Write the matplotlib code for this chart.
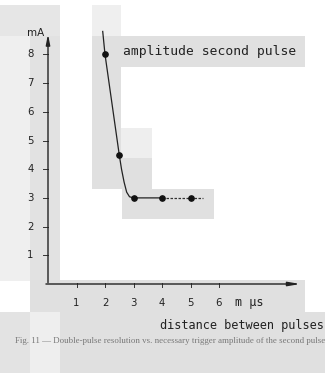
import matplotlib
matplotlib.use("Agg")
import matplotlib.pyplot as plt
from matplotlib.patches import Rectangle

# measured points (distance in m-mu-s, amplitude in mA)
dist = [2, 2.5, 3, 4, 5]
amp = [8, 4.5, 3, 3, 3]
# hand drawn curve through the points
curve_x = [1.92, 2.0, 2.25, 2.5, 2.58, 2.67, 2.76, 2.86, 3.0, 4.0]
curve_y = [8.8, 8.0, 6.25, 4.5, 4.0, 3.55, 3.2, 3.04, 3.0, 3.0]
tail_x = [4.0, 5.0, 5.45]
tail_y = [3.0, 3.0, 3.0]
xticks = [1, 2, 3, 4, 5, 6]
yticks = [1, 2, 3, 4, 5, 6, 7, 8]

W, H = 325, 380
fig = plt.figure(figsize=(W / 100, H / 100), dpi=100)
ax = fig.add_axes([0, 0, 1, 1])
ax.patch.set_alpha(0)

# pixel scale of the scan: origin at (48, 284), ~28.5 px per unit
x0, y0, sx, sy = 48, 284, 28.5, 28.7
ax.set_xlim(-x0 / sx, (W - x0) / sx)
ax.set_ylim((y0 - H) / sy, y0 / sy)
ax.axis("off")

def grey(px0, py0, px1, py1, c):
    fig.add_artist(Rectangle((px0 / W, 1 - py1 / H), (px1 - px0) / W, (py1 - py0) / H,
                             transform=fig.transFigure, color=c, lw=0, zorder=-1))

# scan background blocks
grey(0, 5, 60, 36, '#e6e6e6')
grey(0, 36, 30, 281, '#efefef')
grey(30, 36, 60, 280, '#e2e2e2')
grey(30, 280, 305, 312, '#e0e0e0')
grey(0, 312, 30, 373, '#e3e3e3')
grey(30, 312, 60, 373, '#eeeeee')
grey(60, 312, 325, 373, '#e0e0e0')
grey(92, 5, 121, 36, '#efefef')
grey(92, 36, 305, 67, '#e0e0e0')
grey(92, 67, 121, 189, '#e0e0e0')
grey(121, 128, 152, 158, '#eeeeee')
grey(121, 158, 152, 189, '#e0e0e0')
grey(122, 189, 214, 219, '#e0e0e0')

# axes with arrows
ax.annotate("", xy=(0, 8.8), xytext=(0, -0.05),
            arrowprops=dict(arrowstyle="-|>,head_length=0.6,head_width=0.12", color="#222", lw=1.0))
ax.annotate("", xy=(8.95, 0), xytext=(-0.17, 0),
            arrowprops=dict(arrowstyle="-|>,head_length=0.7,head_width=0.12", color="#222", lw=1.0))

# ticks
for t in yticks:
    ax.plot([-0.16, 0], [t, t], color="#333", lw=0.7)
    ax.text(-0.5, t, str(t), ha="right", va="center", fontsize=7.3, color="#222")
for t in xticks:
    ax.plot([t, t], [-0.1, 0.03], color="#333", lw=0.7)
    ax.text(t, -0.66, str(t), ha="center", va="center", fontsize=7.3, color="#222")

ax.text(-0.45, 8.75, "mA", ha="center", va="center", fontsize=7.5, color="#222")
ax.text(7.05, -0.66, "m µs", ha="center", va="center", fontsize=8.5,
        family="DejaVu Sans Mono", color="#222")

# curve and points
ax.plot(curve_x, curve_y, color="#222", lw=0.9)
ax.plot(tail_x, tail_y, color="#333", lw=0.9, ls=(0, (2, 1.2)))
ax.plot(dist, amp, "o", color="#111", ms=3.8)

ax.text(2.63, 8.1, "amplitude second pulse", ha="left", va="center", fontsize=9.4,
        family="DejaVu Sans Mono", color="#222")
ax.text(3.93, -1.45, "distance between pulses", ha="left", va="center", fontsize=8.6,
        family="DejaVu Sans Mono", color="#222")
ax.text(-1.15, -1.97, "Fig. 11 \u2014 Double-pulse resolution vs. necessary trigger amplitude of the second pulse",
        ha="left", va="center", fontsize=6.4, family="Liberation Serif", color="#777")

fig.savefig("out.png", dpi=100)
